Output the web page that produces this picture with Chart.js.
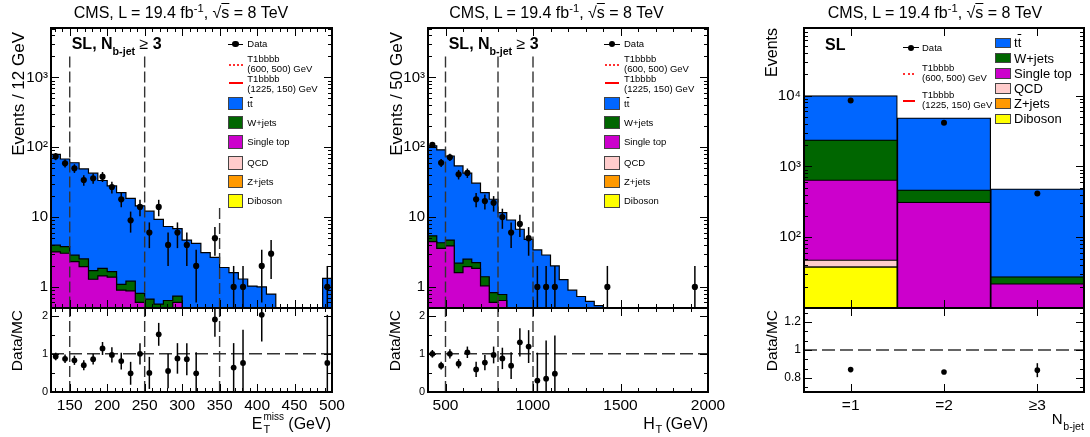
<!DOCTYPE html>
<html>
<head>
<meta charset="utf-8">
<script src="https://cdn.jsdelivr.net/npm/chart.js@4.4.1/dist/chart.umd.min.js"></script>
<style>
  html, body { margin: 0; padding: 0; background: #fff; }
  body { position: relative; width: 1090px; height: 437px; overflow: hidden;
         font-family: 'Liberation Sans', Arial, Helvetica, sans-serif; color: #000; }
  canvas { position: absolute; }
  .t { position: absolute; white-space: nowrap; line-height: 1; }
  .t sup, .t sub { line-height: 0; }
  .box { position: absolute; box-sizing: border-box; border: 1px solid #444; }
  .ln { position: absolute; height: 0; }
  .dot { position: absolute; border-radius: 50%; background: #000; }
</style>
</head>
<body>
<script>
// ---- E_T^miss panel: 30 bins, 125-500 GeV ----
const metRange = [125, 500];
const metTtbar = [75.0, 64.2, 57.2, 46.5, 40.8, 31.6, 26.3, 21.4, 17.3, 13.7, 11.5, 8.7, 6.7, 6.1, 4.7,
                  4.2, 3.1, 2.65, 1.9, 1.6, 1.3, 1.03, 1.0, 0.79, 0, 0, 0, 0, 0, 1.33];
const metWjets = [0.79, 0.74, 0.54, 0.57, 0.42, 0.41, 0.28, 0.19, 0.33, 0.21, 0.67, 0.57, 0.64, 0.14, 0,
                  0, 0, 0, 0, 0, 0, 0, 0, 0, 0, 0, 0, 0, 0, 0];
const metSingleTop = [3.17, 3.04, 2.31, 1.95, 1.29, 1.44, 1.38, 0.9, 0.88, 0.6, 0, 0, 0, 0.6, 0,
                      0, 0, 0, 0, 0, 0, 0, 0, 0, 0, 0, 0, 0, 0, 0];
const metData = [74, 59, 50, 34, 36, 38, 27, 18, 9, 14, 6, 14, 4, 6, 4,
                 2, 0, 5, 0, 1, 1, 0, 2, 3, 0, 0, 0, 0, 0, 1];
const metDataErr = [8.6, 7.7, 7.1, 5.8, 6.0, 6.2, 5.2, 4.2, 3.0, 3.7, 2.4, 3.7, 2.0, 2.4, 2.0,
                    1.4, 0, 2.2, 0, 1.0, 1.0, 0, 1.4, 1.7, 0, 0, 0, 0, 0, 1.0];
const metRatio = [0.93, 0.87, 0.83, 0.70, 0.86, 1.14, 0.97, 0.81, 0.49, 1.0, 0.5, 1.51, 0.55, 0.88, 0.86,
                  0.49, null, 1.9, null, 0.64, 0.76, null, 2.02, null, null, null, null, null, null, 0.76];
const metRatioErr = [0.1, 0.11, 0.12, 0.13, 0.14, 0.17, 0.2, 0.22, 0.3, 0.28, 0.42, 0.3, 0.45, 0.4, 0.42,
                     0.55, 0, 0.45, 0, 0.64, 0.87, 0, 0.7, 0, 0, 0, 0, 0, 0, 1.26];
const metCuts = [150, 250, 350];
const metTicks = [150, 200, 250, 300, 350, 400, 450, 500];

// ---- H_T panel: 32 bins, 400-2000 GeV ----
const htRange = [400, 2000];
const htTtbar = [99.6, 87.7, 70.3, 51.8, 40.1, 28.4, 21.0, 17.2, 10.8, 9.1, 6.7, 4.8, 3.39, 2.87, 2.0, 1.27,
                 0.9, 0.73, 0.62, 0.54, 0, 0, 0, 0, 0, 0, 0, 0, 0, 0, 0, 0];
const htWjets = [0.94, 0.72, 0.83, 0.59, 0.55, 0.38, 0.36, 0.23, 0.14, 0, 0, 0, 0, 0, 0, 0,
                 0, 0, 0, 0, 0, 0, 0, 0, 0, 0, 0, 0, 0, 0, 0, 0];
const htSingleTop = [4.46, 3.58, 3.87, 1.6, 1.95, 1.85, 1.04, 0.6, 0.64, 0, 0, 0, 0, 0, 0, 0,
                     0, 0, 0, 0, 0, 0, 0, 0, 0, 0, 0, 0, 0, 0, 0, 0];
const htData = [108, 60, 72, 41, 43, 18, 17, 16, 10, 6, 8, 5, 1, 1, 1, 0,
                0, 0, 0, 0, 1, 0, 0, 0, 0, 0, 0, 0, 0, 0, 1, 0];
const htDataErr = [10.4, 7.7, 8.5, 6.4, 6.6, 4.2, 4.1, 4.0, 3.2, 2.4, 2.8, 2.2, 1, 1, 1, 0,
                   0, 0, 0, 0, 1, 0, 0, 0, 0, 0, 0, 0, 0, 0, 1, 0];
const htRatio = [1.0, 0.69, 1.0, 0.74, 1.04, 0.59, 0.77, 0.97, 0.88, 0.69, 1.3, 1.19, 0.3, 0.35, 0.48, null,
                 null, null, null, null, null, null, null, null, null, null, null, null, null, null, null, null];
const htRatioErr = [0.1, 0.1, 0.12, 0.12, 0.15, 0.2, 0.2, 0.22, 0.28, 0.35, 0.37, 0.43, 0.73, 1.0, 1.0, 0,
                    0, 0, 0, 0, 0, 0, 0, 0, 0, 0, 0, 0, 0, 0, 0, 0];
const htCuts = [500, 800, 1000];
const htTicks = [500, 1000, 1500, 2000];

// ---- N_b-jet panel ----
const nbCats = ['=1', '=2', '\u22653'];
const nbTtbar = [7630, 4373, 454];
const nbWjets = [1725, 155, 5.6];
const nbSingleTop = [598, 306, 21];
const nbQcd = [9.2, 1, 0.2];
const nbZjets = [0.3, 0.5, 0.1];
const nbDiboson = [38.2, 5, 0.8];
const nbData = [8500, 4125, 414];
const nbDataErr = [92, 64, 20];
const nbRatio = [0.86, 0.843, 0.856];
const nbRatioErr = [0.01, 0.015, 0.05];

const COL = { tt: '#0066ff', wj: '#006600', st: '#cc00cc', qcd: '#ffcccc', zj: '#ff9900', vv: '#ffff00' };
const FLOOR = 1e-3;   // stand-in for empty bins on a log axis (below the frame)

Chart.defaults.font.family = "'Liberation Sans', Arial, Helvetica, sans-serif";
Chart.defaults.color = '#000';

// helpers
const SUP = { 2: '\u00b2', 3: '\u00b3', 4: '\u2074' };
const logLabel = v => v < 100 ? String(v) : '10' + SUP[Math.round(Math.log10(v))];
function logMinor(lo, hi) {
    const out = [];
    for (let e = Math.floor(Math.log10(lo)); e <= Math.ceil(Math.log10(hi)); e++)
        for (let m = 2; m <= 9; m++) { const v = m * Math.pow(10, e); if (v > lo && v < hi) out.push(v); }
    return out;
}
function steps(a, b, s) { const r = []; for (let v = a; v <= b + 1e-9; v += s) r.push(+v.toFixed(4)); return r; }

function stack(comps) {
    const out = []; let run = comps[0].map(() => 0);
    comps.forEach(c => { run = run.map((r, i) => r + c[i]); out.push(run); });
    return out;
}
function stepPts(vals, range) {
    const w = (range[1] - range[0]) / vals.length;
    const pts = vals.map((v, i) => ({ x: range[0] + i * w, y: v > 0 ? v : FLOOR }));
    pts.push({ x: range[1], y: pts[pts.length - 1].y });
    return pts;
}
function pointPts(vals, errs, range) {
    const w = (range[1] - range[0]) / vals.length;
    return vals.map((v, i) => (v != null && v > 0) ? { x: range[0] + (i + 0.5) * w, y: v, e: errs[i] } : null)
               .filter(Boolean);
}

const histDs = (pts, color, order) => ({ type: 'line', data: pts, stepped: 'before', fill: 'start',
    backgroundColor: color, borderColor: '#000', borderWidth: 1.2, pointRadius: 0, order });
const dashDs = (pts, dash) => ({ type: 'line', data: pts, borderColor: '#333', borderWidth: 1.4,
    borderDash: dash || [11, 4], pointRadius: 0, fill: false, order: 1 });
const dataDs = (pts, r) => ({ type: 'scatter', data: pts, errorBars: true, pointRadius: r,
    pointBackgroundColor: '#000', pointBorderWidth: 0, order: 0 });

// error bars drawn through the chart's own scales
const errorBars = {
    id: 'errorBars',
    afterDatasetsDraw(chart) {
        const { ctx, chartArea: a } = chart;
        ctx.save();
        ctx.beginPath(); ctx.rect(a.left, a.top, a.width, a.height); ctx.clip();
        ctx.strokeStyle = '#000'; ctx.lineWidth = 1.5;
        chart.data.datasets.forEach((ds, k) => {
            if (!ds.errorBars) return;
            const meta = chart.getDatasetMeta(k);
            const xs = chart.scales[meta.xAxisID], ys = chart.scales[meta.yAxisID];
            ds.data.forEach(p => {
                if (!p.e) return;
                const x = xs.getPixelForValue(p.x);
                ctx.beginPath();
                ctx.moveTo(x, ys.getPixelForValue(Math.max(p.y - p.e, 0)));
                ctx.lineTo(x, ys.getPixelForValue(p.y + p.e));
                ctx.stroke();
            });
        });
        ctx.restore();
    }
};

// ROOT style frame with ticks on the inside
const frame = {
    id: 'frame',
    afterDraw(chart, args, o) {
        const { ctx, chartArea: a } = chart;
        const xs = chart.scales.x, ys = chart.scales.y;
        ctx.save();
        ctx.strokeStyle = '#000'; ctx.lineWidth = 1;
        ctx.beginPath();
        const xt = (vals, len) => vals.forEach(v => {
            const px = Math.round(xs.getPixelForValue(v)) + 0.5;
            ctx.moveTo(px, a.bottom); ctx.lineTo(px, a.bottom - len);
            ctx.moveTo(px, a.top); ctx.lineTo(px, a.top + len);
        });
        const yt = (vals, len) => vals.forEach(v => {
            const py = Math.round(ys.getPixelForValue(v)) + 0.5;
            ctx.moveTo(a.left, py); ctx.lineTo(a.left + len, py);
            ctx.moveTo(a.right, py); ctx.lineTo(a.right - len, py);
        });
        xt(o.xMajor || [], 8); xt(o.xMinor || [], 4);
        yt(o.yMajor || [], 8); yt(o.yMinor || [], 4);
        ctx.stroke();
        ctx.lineWidth = 2;
        ctx.strokeRect(a.left, a.top, a.width, a.height);
        ctx.restore();
    }
};

const noPad = s => { s.paddingLeft = s.paddingRight = s.paddingTop = s.paddingBottom = 0; };
const fitW = w => s => { s.width = w; noPad(s); };
const fitH = h => s => { s.height = h; noPad(s); };
const setTicks = vals => s => { s.ticks = vals.map(v => ({ value: v })); };

// one canvas per plot, sized so the chart area lands on `area`
function build(area, L, B, type, datasets, scales, frameOpts) {
    const P = 22;
    const c = document.createElement('canvas');
    c.width = area.w + L + 2 * P; c.height = area.h + B + 2 * P;
    c.style.left = (area.x - L - P) + 'px'; c.style.top = (area.y - P) + 'px';
    document.body.appendChild(c);
    return new Chart(c, {
        type, data: { datasets },
        options: {
            responsive: false, animation: false, events: [],
            layout: { padding: P },
            plugins: { legend: { display: false }, tooltip: { enabled: false }, frame: frameOpts },
            scales
        },
        plugins: [errorBars, frame]
    });
}

function yAxis(type, min, max, ticks, size, cb) {
    return { type, min, max, afterFit: fitW(50), afterBuildTicks: setTicks(ticks),
        ticks: { autoSkip: false, padding: 3, font: { size }, callback: cb || (v => String(v)) },
        grid: { display: false, drawTicks: false }, border: { display: false } };
}
function xAxis(min, max, ticks, size, cb) {
    return { type: 'linear', min, max, offset: false, afterFit: fitH(30), afterBuildTicks: setTicks(ticks),
        ticks: { autoSkip: false, maxRotation: 0, padding: 4, font: { size }, callback: cb || (v => String(v)) },
        grid: { display: false, drawTicks: false }, border: { display: false } };
}

// histogram panel: main (log) + ratio
function histPanel(x0, w, range, comps, data, dataErr, ratio, ratioErr, cuts, cutTops, xMajor, xMinor) {
    const yr = [0.5, 5100];
    const cum = stack(comps.map(c => c.vals));
    const ds = [dataDs(pointPts(data, dataErr, range), 3.1)];
    cuts.forEach((c, i) => ds.push(dashDs([{ x: c, y: cutTops[i] }, { x: c, y: FLOOR }])));
    cum.forEach((vals, i) => ds.push(histDs(stepPts(vals, range), comps[i].color, 2 + i)));
    build({ x: x0, y: 28, w, h: 280 }, 50, 0, 'line', ds, {
        x: { type: 'linear', display: false, min: range[0], max: range[1] },
        y: yAxis('logarithmic', yr[0], yr[1], [1, 10, 100, 1000], 15, logLabel)
    }, { xMajor, xMinor, yMajor: [1, 10, 100, 1000], yMinor: logMinor(yr[0], yr[1]) });

    const rds = [dataDs(pointPts(ratio, ratioErr, range), 2.9),
                 dashDs([{ x: range[0], y: 1 }, { x: range[1], y: 1 }], [13, 5])];
    cuts.forEach(c => rds.push(dashDs([{ x: c, y: 0 }, { x: c, y: 2.2 }])));
    build({ x: x0, y: 308, w, h: 84 }, 50, 30, 'line', rds, {
        x: xAxis(range[0], range[1], xMajor, 15.5),
        y: yAxis('linear', 0, 2.2, [0, 1, 2], 11)
    }, { xMajor, xMinor, yMajor: [0, 1, 2], yMinor: [0.5, 1.5] });
}

const histComps = (st, wj, tt) => [{ vals: st, color: COL.st }, { vals: wj, color: COL.wj }, { vals: tt, color: COL.tt }];

histPanel(51, 281, metRange, histComps(metSingleTop, metWjets, metTtbar), metData, metDataErr,
    metRatio, metRatioErr, metCuts, [2000, 2000, 13.5], metTicks,
    steps(130, 490, 10).filter(v => v % 50 !== 0));

histPanel(428, 280, htRange, histComps(htSingleTop, htWjets, htTtbar), htData, htDataErr,
    htRatio, htRatioErr, htCuts, [2000, 2000, 2000], htTicks,
    steps(500, 1900, 100).filter(v => v % 500 !== 0));

// N_b-jet panel: stacked bars, drawn as overlapping cumulative totals
(function () {
    const comps = [[nbDiboson, COL.vv], [nbZjets, COL.zj], [nbQcd, COL.qcd],
                   [nbSingleTop, COL.st], [nbWjets, COL.wj], [nbTtbar, COL.tt]];
    const cum = stack(comps.map(c => c[0]));
    const ds = [dataDs(nbData.map((v, i) => ({ x: i, y: v, e: nbDataErr[i] })), 3)];
    cum.forEach((vals, i) => ds.push({
        type: 'bar', data: vals.map((v, k) => ({ x: k, y: v })), backgroundColor: comps[i][1],
        borderColor: '#000', borderWidth: 1.2, borderSkipped: false, grouped: false,
        barPercentage: 1, categoryPercentage: 1, order: 2 + i
    }));
    build({ x: 804, y: 28, w: 280, h: 280 }, 50, 0, 'bar', ds, {
        x: { type: 'linear', display: false, min: -0.5, max: 2.5, offset: false, afterBuildTicks: setTicks([0, 1, 2]) },
        y: yAxis('logarithmic', 10, 90000, [100, 1000, 10000], 15, logLabel)
    }, { xMajor: [0, 1, 2], yMajor: [100, 1000, 10000], yMinor: logMinor(10, 90000) });

    const rds = [dataDs(nbRatio.map((v, i) => ({ x: i, y: v, e: nbRatioErr[i] })), 2.8),
                 dashDs([{ x: -0.5, y: 1 }, { x: 2.5, y: 1 }], [13, 5])];
    build({ x: 804, y: 308, w: 280, h: 84 }, 50, 30, 'line', rds, {
        x: xAxis(-0.5, 2.5, [0, 1, 2], 15.5, v => nbCats[v]),
        y: yAxis('linear', 0.7, 1.3, [0.8, 1, 1.2], 12, v => String(+v.toFixed(1)))
    }, { xMajor: [0, 1, 2], yMajor: [0.8, 1, 1.2], yMinor: [0.7333, 0.8667, 0.9333, 1.0667, 1.1333, 1.2667] });
})();

// ---- text: titles, axis titles, legends ----
function txt(html, x, base, size, opt) {
    opt = opt || {};
    const d = document.createElement('div');
    d.className = 't'; d.innerHTML = html;
    d.style.fontSize = size + 'px';
    d.style.top = (base - 0.8465 * size) + 'px';
    if (opt.align === 'right') d.style.right = (1090 - x) + 'px';
    else if (opt.align === 'center') { d.style.left = x + 'px'; d.style.transform = 'translateX(-50%)'; }
    else d.style.left = x + 'px';
    if (opt.bold) d.style.fontWeight = 'bold';
    document.body.appendChild(d);
    return d;
}
function vtxt(text, x, yEnd, size) {
    const W = 220, d = document.createElement('div');
    d.className = 't'; d.textContent = text; d.style.fontSize = size + 'px';
    d.style.width = W + 'px'; d.style.textAlign = 'right';
    d.style.left = x + 'px'; d.style.top = (yEnd + W) + 'px';
    d.style.transformOrigin = '0 0'; d.style.transform = 'rotate(-90deg)';
    document.body.appendChild(d);
}
function el(cls, x, y, w, h, css) {
    const d = document.createElement('div');
    d.className = cls;
    Object.assign(d.style, { left: x + 'px', top: y + 'px', width: w + 'px' }, h != null ? { height: h + 'px' } : {}, css || {});
    document.body.appendChild(d);
}
const dataMarker = (x, y, w) => {
    el('ln', x, y - 0.75, w, null, { borderTop: '1.5px solid #000' });
    el('dot', x + w / 2 - 3.2, y - 3.2, 6.4, 6.4);
};

const TTB = 't<span style="text-decoration:overline">t</span>';
const TITLE = 'CMS, L = 19.4 fb<sup style="font-size:0.7em">-1</sup>, &radic;<span style="text-decoration:overline">s</span> = 8 TeV';
txt(TITLE, 181, 19, 16, { align: 'center' });
txt(TITLE, 556.5, 19, 16, { align: 'center' });
txt(TITLE, 935, 19, 16, { align: 'center' });

const SLB = '<b>SL, N<sub style="font-size:10.7px;vertical-align:-6px">b-jet</sub></b> &ge; <b>3</b>';
txt(SLB, 71.7, 50, 16);
txt(SLB, 448.7, 50, 16);
txt('<b>SL</b>', 825, 51, 16);

vtxt('Events / 12 GeV', 9.5, 31.7, 17);
vtxt('Events / 50 GeV', 388, 31.7, 17);
vtxt('Events', 764, 28.3, 16);
vtxt('Data/MC', 9, 310, 15.5);
vtxt('Data/MC', 387, 310, 15.5);
vtxt('Data/MC', 764, 310, 15.5);

txt('E', 251.7, 429.3, 16); txt('miss', 263.5, 420.5, 10); txt('T', 263.5, 433, 11); txt('(GeV)', 288.3, 429.3, 16);
txt('H', 643.3, 429.3, 16); txt('T', 655.5, 433, 11); txt('(GeV)', 665.5, 429.3, 16);
txt('N', 1051.7, 424, 15); txt('b-jet', 1063.3, 430, 10.6);

const legendRows = [[TTB, COL.tt], ['W+jets', COL.wj], ['Single top', COL.st],
                    ['QCD', COL.qcd], ['Z+jets', COL.zj], ['Diboson', COL.vv]];

function legendHist(ox) {
    const mx = ox + 176.7, tx = ox + 196.3, fs = 9.5;
    dataMarker(mx, 44.3, 15.6); txt('Data', tx, 47.4, fs);
    txt('T1bbbb', tx, 62, fs); txt('(600, 500) GeV', tx, 72, fs);
    el('ln', mx + 1, 64, 14, null, { borderTop: '2px dotted #ff3030' });
    txt('T1bbbb', tx, 82, fs); txt('(1225, 150) GeV', tx, 92, fs);
    el('ln', mx + 1, 82.3, 14, null, { borderTop: '2px solid #f00' });
    const tops = [96.7, 115.5, 135, 156, 174.5, 194];
    legendRows.forEach((r, i) => {
        el('box', mx, tops[i], 15.6, 13.5, { background: r[1] });
        txt(r[0], tx, tops[i] + 10.2, fs);
    });
}
legendHist(51);
legendHist(427.7);

// N_b-jet legend, two columns
dataMarker(903, 47.7, 16); txt('Data', 922, 51, 9.5);
txt('T1bbbb', 922, 71.5, 9.5); txt('(600, 500) GeV', 922, 81.3, 9.5);
el('ln', 903, 73.3, 11, null, { borderTop: '2px dotted #ff3030' });
txt('T1bbbb', 922, 98.3, 9.5); txt('(1225, 150) GeV', 922, 108, 9.5);
el('ln', 903, 100, 12, null, { borderTop: '2px solid #f00' });
[37.5, 52.7, 67.8, 83.2, 98.3, 113.5].forEach((y, i) => {
    el('box', 995, y, 15.7, 10.8, { background: legendRows[i][1] });
    txt(legendRows[i][0], 1014, y + 10, 13);
});
</script>
</body>
</html>
